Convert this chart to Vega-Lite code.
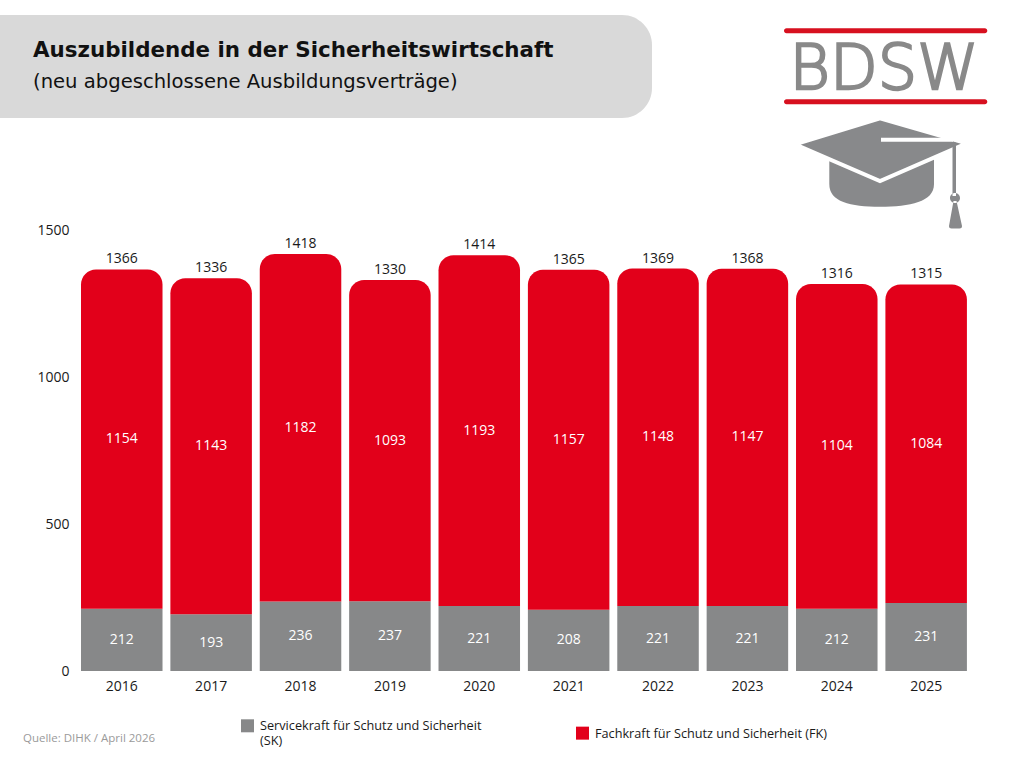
{
  "$schema": "https://vega.github.io/schema/vega-lite/v6.json",
  "background": "white",
  "padding": {"left": 0, "top": 15, "right": 0, "bottom": 0},
  "config": {
    "font": "Open Sans",
    "view": {"stroke": null}
  },
  "spacing": -6,
  "vconcat": [
    {
      "spacing": 128,
      "hconcat": [
        {
          "width": 652,
          "height": 103,
          "data": {"values": [{"box": "titel"}]},
          "mark": {"type": "rect", "color": "#d9d9d9", "cornerRadiusTopRight": 30, "cornerRadiusBottomRight": 30},
          "encoding": {},
          "title": {
            "text": "Auszubildende in der Sicherheitswirtschaft",
            "subtitle": "(neu abgeschlossene Ausbildungsverträge)",
            "orient": "top",
            "anchor": "start",
            "frame": "group",
            "offset": -77,
            "dx": 33,
            "font": "DejaVu Sans",
            "fontSize": 21.4,
            "fontWeight": "bold",
            "color": "#111111",
            "subtitleFont": "DejaVu Sans",
            "subtitleFontSize": 19.6,
            "subtitleColor": "#111111",
            "subtitlePadding": 12
          }
        },
        {
          "width": 210,
          "height": 214,
          "data": {"values": [{"logo": "BDSW"}]},
          "layer": [
            {
              "mark": {"type": "point", "filled": true, "opacity": 1, "size": 4, "color": "#d7101f", "strokeWidth": 0,
                "shape": "M -98.5 -93.7 L 99.8 -93.7 A 2.5 2.5 0 0 1 99.8 -88.7 L -98.5 -88.7 A 2.5 2.5 0 0 1 -98.5 -93.7 Z M -98.5 -22.7 L 99.8 -22.7 A 2.5 2.5 0 0 1 99.8 -17.7 L -98.5 -17.7 A 2.5 2.5 0 0 1 -98.5 -22.7 Z"},
              "encoding": {}
            },
            {
              "mark": {"type": "text", "font": "DejaVu Sans", "fontSize": 62, "fontWeight": 300, "color": "#898989", "stroke": "#898989", "strokeWidth": 2.4, "baseline": "alphabetic", "align": "center", "dy": -33.5, "dx": -1},
              "encoding": {"text": {"field": "logo"}}
            },
            {
              "mark": {"type": "point", "filled": true, "opacity": 1, "size": 4, "color": "#88898b", "strokeWidth": 0,
                "shape": "M -55.7 30 L -55.7 62 C -55.7 80 -35 84.7 -5 84.7 C 25 84.7 49 80 49 62 L 49 30 Z"},
              "encoding": {}
            },
            {
              "mark": {"type": "point", "opacity": 1, "size": 4, "fill": "#88898b", "fillOpacity": 1, "stroke": "white", "strokeWidth": 4, "strokeOpacity": 1,
                "shape": "M -5 -3.7 L 81.7 21.3 L -5 59 L -90 22.3 Z"},
              "encoding": {}
            },
            {
              "mark": {"type": "point", "filled": true, "opacity": 1, "size": 4, "color": "white", "strokeWidth": 0,
                "shape": "M -4 15.7 L 68 15.7 L 68 19.7 L -4 19.7 Z"},
              "encoding": {}
            },
            {
              "mark": {"type": "point", "filled": true, "opacity": 1, "size": 4, "color": "#88898b", "strokeWidth": 0,
                "shape": "M 67.5 20.5 L 71 20.5 L 71 74 L 67.5 74 Z M 65 76 A 5 5 0 1 0 75 76 A 5 5 0 1 0 65 76 Z M 68.5 79 L 71.5 79 L 77 104 Q 77 106.5 74.5 106.5 L 66.5 106.5 Q 64 106.5 64 104 Z"},
              "encoding": {}
            }
          ]
        }
      ]
    },
    {
      "width": 971,
      "height": 441,
      "data": {
        "values": [
          {"Jahr": "2016", "SK": 212, "FK": 1154, "Gesamt": 1366},
          {"Jahr": "2017", "SK": 193, "FK": 1143, "Gesamt": 1336},
          {"Jahr": "2018", "SK": 236, "FK": 1182, "Gesamt": 1418},
          {"Jahr": "2019", "SK": 237, "FK": 1093, "Gesamt": 1330},
          {"Jahr": "2020", "SK": 221, "FK": 1193, "Gesamt": 1414},
          {"Jahr": "2021", "SK": 208, "FK": 1157, "Gesamt": 1365},
          {"Jahr": "2022", "SK": 221, "FK": 1148, "Gesamt": 1369},
          {"Jahr": "2023", "SK": 221, "FK": 1147, "Gesamt": 1368},
          {"Jahr": "2024", "SK": 212, "FK": 1104, "Gesamt": 1316},
          {"Jahr": "2025", "SK": 231, "FK": 1084, "Gesamt": 1315}
        ]
      },
      "title": {
        "text": "Quelle: DIHK / April 2026",
        "orient": "bottom",
        "anchor": "start",
        "frame": "group",
        "dx": 23,
        "offset": 40,
        "fontSize": 11.5,
        "fontWeight": "normal",
        "color": "#9a9a9a"
      },
      "encoding": {
        "x": {
          "field": "Jahr",
          "type": "ordinal",
          "scale": {"paddingInner": 0.088, "paddingOuter": 0.476, "align": 0.952},
          "axis": {"title": null, "domain": false, "ticks": false, "labelAngle": 0, "labelPadding": 8, "labelFontSize": 14, "labelColor": "#1a1a1a"}
        }
      },
      "layer": [
        {
          "mark": {"type": "bar"},
          "encoding": {
            "y": {
              "field": "SK",
              "type": "quantitative",
              "scale": {"domain": [0, 1500], "nice": false},
              "axis": {"title": null, "values": [0, 500, 1000, 1500], "format": "d", "domain": false, "ticks": false, "grid": false, "labelPadding": -69, "labelAlign": "right", "labelFontSize": 14, "labelColor": "#1a1a1a"}
            },
            "color": {
              "datum": "Servicekraft für Schutz und Sicherheit (SK)",
              "type": "nominal",
              "scale": {
                "domain": ["Servicekraft für Schutz und Sicherheit (SK)", "Fachkraft für Schutz und Sicherheit (FK)"],
                "range": ["#878889", "#e2001a"]
              },
              "legend": {
                "title": null,
                "orient": "none",
                "legendX": 241,
                "legendY": 704,
                "direction": "horizontal",
                "padding": 0,
                "symbolType": "square",
                "symbolSize": 169,
                "symbolStrokeWidth": 0,
                "labelFontSize": 12.7,
                "labelColor": "#1a1a1a",
                "labelOffset": 6,
                "labelLimit": 400,
                "labelBaseline": "alphabetic",
                "labelLineHeight": 16,
                "columnPadding": 94,
                "labelExpr": "datum.label == 'Servicekraft für Schutz und Sicherheit (SK)' ? ['Servicekraft für Schutz und Sicherheit', '(SK)'] : datum.label",
                "encode": {"labels": {"update": {"dy": {"value": 4.5}}}}
              }
            }
          }
        },
        {
          "mark": {"type": "bar", "cornerRadiusTopLeft": 15, "cornerRadiusTopRight": 15},
          "encoding": {
            "y": {"field": "Gesamt", "type": "quantitative"},
            "y2": {"field": "SK"},
            "color": {"datum": "Fachkraft für Schutz und Sicherheit (FK)", "type": "nominal"}
          }
        },
        {
          "mark": {"type": "text", "color": "white", "fontSize": 14, "baseline": "middle", "dy": {"expr": "datum.SK * 0.147"}},
          "encoding": {
            "y": {"field": "SK", "type": "quantitative"},
            "text": {"field": "SK", "type": "quantitative"}
          }
        },
        {
          "mark": {"type": "text", "color": "white", "fontSize": 14, "baseline": "middle", "dy": {"expr": "datum.FK * 0.147"}},
          "encoding": {
            "y": {"field": "Gesamt", "type": "quantitative"},
            "text": {"field": "FK", "type": "quantitative"}
          }
        },
        {
          "mark": {"type": "text", "color": "#1a1a1a", "fontSize": 14, "baseline": "bottom", "dy": -3},
          "encoding": {
            "y": {"field": "Gesamt", "type": "quantitative"},
            "text": {"field": "Gesamt", "type": "quantitative"}
          }
        }
      ]
    }
  ]
}
